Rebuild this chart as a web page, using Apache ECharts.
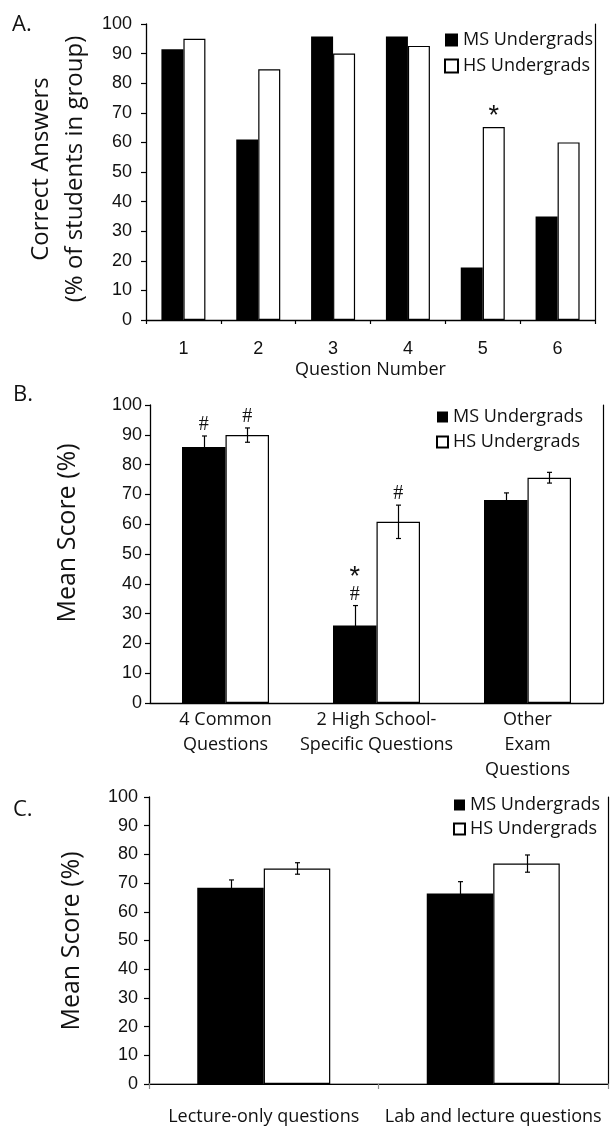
<!DOCTYPE html>
<html>
<head>
<meta charset="utf-8">
<script src="https://cdn.jsdelivr.net/npm/echarts@6/dist/echarts.min.js"></script>
<style>html,body{margin:0;padding:0;background:#fff}#c{width:611px;height:1126px}</style>
</head>
<body>
<div id="c"></div>
<script>
// ---------- Panel A ----------
const questionsA = ['1', '2', '3', '4', '5', '6'];
const msA = [91.5, 61, 95.8, 95.8, 17.7, 35];
const hsA = [95, 84.7, 90, 92.6, 65.2, 60];
const hsMarkA = ['', '', '', '', '*', ''];

// ---------- Panel B ----------
const categoriesB = ['4 Common\nQuestions', '2 High School-\nSpecific Questions', 'Other\nExam\nQuestions'];
const msB = [85.9, 26, 68.1];
const msErrB = [3.7, 6.7, 2.4];
const hsB = [89.9, 60.8, 75.6];
const hsErrB = [2.4, 5.6, 1.8];
const msMarkB = ['#', '*\n#', ''];
const hsMarkB = ['#', '#', ''];

// ---------- Panel C ----------
const categoriesC = ['Lecture-only questions', 'Lab and lecture questions'];
const msC = [68.4, 66.4];
const msErrC = [2.7, 4.1];
const hsC = [75.1, 76.8];
const hsErrC = [2.0, 3.0];

const seriesNames = ['MS Undergrads', 'HS Undergrads'];
const yMin = 0, yMax = 100, yStep = 10;

// ---------- styling ----------
const TXT = '#111';
const HUM = '"Open Sans", "Noto Sans", sans-serif';
const ARIAL = '"Liberation Sans", Arial, sans-serif';
const SERIF = '"Liberation Serif", "DejaVu Serif", serif';
const BW = [22, 43.5, 66.5]; // bar widths per panel

const chart = echarts.init(document.getElementById('c'), null, {renderer: 'canvas'});

function errorBars(offset, cap) {
  return function (params, api) {
    const i = api.value(0), v = api.value(1), e = api.value(2);
    const p1 = api.coord([i, v + e]);
    const p2 = api.coord([i, v - e]);
    const x = Math.round(p1[0] + offset) + 0.5;
    const st = {stroke: '#000', lineWidth: 1.2};
    return {type: 'group', children: [
      {type: 'line', shape: {x1: x, y1: p1[1], x2: x, y2: p2[1]}, style: st},
      {type: 'line', shape: {x1: x - cap, y1: p1[1], x2: x + cap, y2: p1[1]}, style: st},
      {type: 'line', shape: {x1: x - cap, y1: p2[1], x2: x + cap, y2: p2[1]}, style: st}
    ]};
  };
}

function markSeries(name, texts, vals, errs, offset, gap, xi, yi) {
  return {
    type: 'custom', name: name, xAxisIndex: xi, yAxisIndex: yi, z: 5,
    encode: {x: 0, y: 1},
    data: vals.map((v, i) => [i, v + (errs ? errs[i] : 0)]),
    renderItem: function (params, api) {
      const i = params.dataIndex;
      const t = texts[i];
      if (!t) return null;
      const p = api.coord([api.value(0), api.value(1)]);
      const x = p[0] + offset;
      const lines = t.split('\n').reverse();
      const children = [];
      let y = p[1] - gap;
      lines.forEach(function (ln) {
        const isStar = ln === '*';
        children.push({
          type: 'text', x: x, y: isStar ? y + 3 : y,
          style: {
            text: ln, fill: TXT, align: 'center', verticalAlign: 'middle',
            font: isStar ? ('27px ' + ARIAL) : ('20px ' + SERIF)
          }
        });
        y -= 20;
      });
      return {type: 'group', children: children};
    }
  };
}

function yAxisLeft(gi, margin) {
  return {
    type: 'value', gridIndex: gi, min: yMin, max: yMax, interval: yStep,
    axisLine: {show: true, lineStyle: {color: '#000', width: 1.3}},
    axisTick: {show: true, length: 5, lineStyle: {color: '#000', width: 1.2}},
    splitLine: {show: false},
    axisLabel: {margin: margin, fontFamily: ARIAL, fontSize: 18, color: TXT}
  };
}
function yAxisRight(gi) {
  return {
    type: 'value', gridIndex: gi, position: 'right', min: yMin, max: yMax, interval: yStep,
    axisLine: {show: true, lineStyle: {color: '#000', width: 1.2}},
    axisTick: {show: false}, splitLine: {show: false}, axisLabel: {show: false}
  };
}
function xAxisTop(gi, data) {
  return {
    type: 'category', gridIndex: gi, position: 'top', data: data,
    axisLine: {show: true, lineStyle: {color: '#000', width: 1.2}},
    axisTick: {show: false}, axisLabel: {show: false}, splitLine: {show: false}
  };
}

const legendBase = {
  orient: 'vertical', padding: 0, icon: 'rect', selectedMode: false,
  data: seriesNames,
  textStyle: {fontFamily: HUM, fontSize: 18, color: TXT}
};

const option = {
  animation: false,
  backgroundColor: '#fff',
  grid: [
    {left: 146, top: 24, width: 449, height: 296},
    {left: 150, top: 405, width: 453, height: 298},
    {left: 149, top: 797, width: 459, height: 288}
  ],
  legend: [
    Object.assign({}, legendBase, {left: 444, top: 31, itemWidth: 13, itemHeight: 13, itemGap: 8}),
    Object.assign({}, legendBase, {left: 436, top: 408, itemWidth: 11, itemHeight: 11, itemGap: 7}),
    Object.assign({}, legendBase, {left: 453, top: 796, itemWidth: 11, itemHeight: 11, itemGap: 6})
  ],
  xAxis: [
    {
      type: 'category', gridIndex: 0, data: questionsA,
      name: 'Question Number', nameLocation: 'middle', nameGap: 41, nameMoveOverlap: false,
      nameTextStyle: {fontFamily: HUM, fontSize: 18, color: TXT},
      axisLine: {show: true, lineStyle: {color: '#000', width: 1.3}},
      axisTick: {show: true, length: 4, lineStyle: {color: '#000', width: 1.2}},
      axisLabel: {margin: 20, fontFamily: ARIAL, fontSize: 18, color: TXT, interval: 0}
    },
    {
      type: 'category', gridIndex: 1, data: categoriesB,
      axisLine: {show: true, lineStyle: {color: '#000', width: 1.3}},
      axisTick: {show: false},
      axisLabel: {margin: 4, fontFamily: HUM, fontSize: 18, lineHeight: 25, color: TXT, interval: 0}
    },
    {
      type: 'category', gridIndex: 2, data: categoriesC,
      axisLine: {show: true, lineStyle: {color: '#8c8c8c', width: 1.5}},
      axisTick: {show: true, length: 5, lineStyle: {color: '#8c8c8c', width: 1.2}},
      axisLabel: {margin: 24, fontFamily: HUM, fontSize: 18, color: TXT, interval: 0}
    },
    xAxisTop(0, questionsA),
    xAxisTop(1, categoriesB),
    xAxisTop(2, categoriesC)
  ],
  yAxis: [
    yAxisLeft(0, 14), yAxisLeft(1, 8), yAxisLeft(2, 11),
    yAxisRight(0), yAxisRight(1), yAxisRight(2)
  ],
  graphic: [
    {type: 'text', x: 12, y: 25, style: {text: 'A.', font: '22px ' + HUM, fill: TXT, verticalAlign: 'middle'}},
    {type: 'text', x: 13, y: 395, style: {text: 'B.', font: '22px ' + HUM, fill: TXT, verticalAlign: 'middle'}},
    {type: 'text', x: 13, y: 810, style: {text: 'C.', font: '22px ' + HUM, fill: TXT, verticalAlign: 'middle'}},
    {type: 'text', x: 58, y: 169, rotation: Math.PI / 2,
      style: {text: 'Correct Answers\n(% of students in group)', font: '24px ' + HUM, lineHeight: 34,
        fill: TXT, align: 'center', verticalAlign: 'middle'}},
    {type: 'text', x: 68, y: 533, rotation: Math.PI / 2,
      style: {text: 'Mean Score (%)', font: '25px ' + HUM, fill: TXT, align: 'center', verticalAlign: 'middle'}},
    {type: 'text', x: 72, y: 941, rotation: Math.PI / 2,
      style: {text: 'Mean Score (%)', font: '25px ' + HUM, fill: TXT, align: 'center', verticalAlign: 'middle'}}
  ],
  series: [
    // Panel A
    {type: 'bar', name: seriesNames[0], xAxisIndex: 0, yAxisIndex: 0, data: msA,
      barWidth: BW[0], barGap: '0%', itemStyle: {color: '#000'}},
    {type: 'bar', name: seriesNames[1], xAxisIndex: 0, yAxisIndex: 0, data: hsA,
      barWidth: BW[0], barGap: '0%', itemStyle: {color: '#fff', borderColor: '#000', borderWidth: 1.2}},
    markSeries('markA', hsMarkA, hsA, null, BW[0] / 2, 13, 0, 0),
    // Panel B
    {type: 'bar', name: seriesNames[0], xAxisIndex: 1, yAxisIndex: 1, data: msB,
      barWidth: BW[1], barGap: '0%', itemStyle: {color: '#000'}},
    {type: 'bar', name: seriesNames[1], xAxisIndex: 1, yAxisIndex: 1, data: hsB,
      barWidth: BW[1], barGap: '0%', itemStyle: {color: '#fff', borderColor: '#000', borderWidth: 1.2}},
    {type: 'custom', name: 'errMsB', xAxisIndex: 1, yAxisIndex: 1, z: 4, encode: {x: 0, y: 1},
      data: msB.map((v, i) => [i, v, msErrB[i]]), renderItem: errorBars(-BW[1] / 2, 2.5)},
    {type: 'custom', name: 'errHsB', xAxisIndex: 1, yAxisIndex: 1, z: 4, encode: {x: 0, y: 1},
      data: hsB.map((v, i) => [i, v, hsErrB[i]]), renderItem: errorBars(BW[1] / 2, 2.5)},
    markSeries('markMsB', msMarkB, msB, msErrB, -BW[1] / 2, 11, 1, 1),
    markSeries('markHsB', hsMarkB, hsB, hsErrB, BW[1] / 2, 11, 1, 1),
    // Panel C
    {type: 'bar', name: seriesNames[0], xAxisIndex: 2, yAxisIndex: 2, data: msC,
      barWidth: BW[2], barGap: '0%', itemStyle: {color: '#000'}},
    {type: 'bar', name: seriesNames[1], xAxisIndex: 2, yAxisIndex: 2, data: hsC,
      barWidth: BW[2], barGap: '0%', itemStyle: {color: '#fff', borderColor: '#000', borderWidth: 1.2}},
    {type: 'custom', name: 'errMsC', xAxisIndex: 2, yAxisIndex: 2, z: 4, encode: {x: 0, y: 1},
      data: msC.map((v, i) => [i, v, msErrC[i]]), renderItem: errorBars(-BW[2] / 2, 2.5)},
    {type: 'custom', name: 'errHsC', xAxisIndex: 2, yAxisIndex: 2, z: 4, encode: {x: 0, y: 1},
      data: hsC.map((v, i) => [i, v, hsErrC[i]]), renderItem: errorBars(BW[2] / 2, 2.5)}
  ]
};
chart.setOption(option);
</script>
</body>
</html>
